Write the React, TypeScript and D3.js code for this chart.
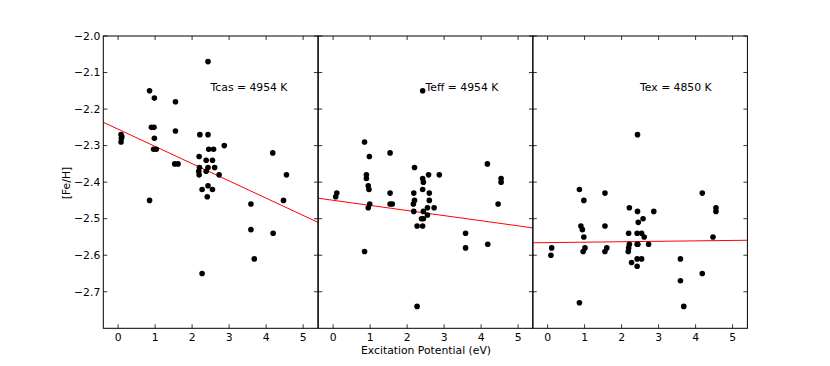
import React, { useEffect, useRef } from "react";
import * as d3 from "d3";

// excitation potential (eV) and [Fe/H] per line, one pair of arrays per panel
const tcasEP = [2.43, 0.85, 0.98, 1.55, 0.9, 0.97, 1.55, 0.08, 0.1, 0.09, 0.08, 2.21, 2.43, 0.98, 0.96, 1.03, 2.45, 2.58, 2.87, 2.19, 2.38, 2.55, 1.53, 1.62, 2.43, 2.61, 2.2, 2.18, 2.19, 2.38, 2.73, 4.18, 4.55, 2.43, 2.27, 2.55, 2.41, 0.85, 4.47, 3.59, 3.59, 4.19, 3.68, 2.27];
const tcasFe = [-2.07, -2.15, -2.17, -2.18, -2.25, -2.25, -2.26, -2.27, -2.275, -2.28, -2.29, -2.27, -2.27, -2.28, -2.31, -2.31, -2.31, -2.31, -2.3, -2.33, -2.34, -2.34, -2.35, -2.35, -2.36, -2.36, -2.36, -2.37, -2.38, -2.37, -2.38, -2.32, -2.38, -2.41, -2.42, -2.42, -2.44, -2.45, -2.45, -2.46, -2.53, -2.54, -2.61, -2.65];

const teffEP = [2.42, 0.85, 0.98, 1.54, 0.9, 0.9, 0.95, 0.97, 0.1, 0.07, 0.99, 0.95, 0.85, 1.54, 1.54, 1.6, 2.2, 2.42, 2.44, 2.58, 2.87, 2.42, 2.18, 2.6, 2.2, 2.6, 2.17, 2.55, 2.73, 2.18, 2.44, 2.55, 2.39, 2.44, 2.27, 2.42, 2.27, 4.17, 4.54, 4.54, 4.46, 3.58, 3.58, 4.18];
const teffFe = [-2.15, -2.29, -2.33, -2.32, -2.38, -2.39, -2.41, -2.42, -2.43, -2.44, -2.46, -2.47, -2.59, -2.43, -2.46, -2.46, -2.36, -2.39, -2.4, -2.38, -2.38, -2.42, -2.43, -2.43, -2.45, -2.45, -2.46, -2.47, -2.47, -2.48, -2.48, -2.49, -2.5, -2.5, -2.52, -2.52, -2.74, -2.35, -2.39, -2.4, -2.46, -2.54, -2.58, -2.57];

const texEP = [2.43, 0.86, 0.98, 1.55, 0.9, 0.94, 0.98, 0.11, 0.09, 1.01, 0.96, 0.86, 1.55, 1.6, 1.55, 2.21, 2.43, 2.87, 2.58, 2.45, 2.19, 2.42, 2.54, 2.61, 2.19, 2.21, 2.42, 2.44, 2.73, 2.18, 2.42, 2.54, 2.27, 2.42, 4.18, 4.55, 4.55, 4.47, 3.59, 3.59, 4.18, 3.68];
const texFe = [-2.27, -2.42, -2.45, -2.43, -2.52, -2.53, -2.55, -2.58, -2.6, -2.58, -2.59, -2.73, -2.52, -2.58, -2.59, -2.47, -2.48, -2.48, -2.5, -2.51, -2.54, -2.54, -2.54, -2.55, -2.58, -2.57, -2.57, -2.57, -2.57, -2.59, -2.61, -2.61, -2.62, -2.63, -2.43, -2.47, -2.48, -2.55, -2.61, -2.67, -2.65, -2.74];

const panelLabels = ["Tcas = 4954 K", "Teff = 4954 K", "Tex = 4850 K"];
const fitSlopes = [-0.0472, -0.014, 0.0012];
const fitIntercepts = [-2.255, -2.4496, -2.5655];

const xTicks = [0, 1, 2, 3, 4, 5];
const yTicks = [-2.0, -2.1, -2.2, -2.3, -2.4, -2.5, -2.6, -2.7];

export default function App() {
  const chartRef = useRef<SVGSVGElement>(null);

  useEffect(() => {
    const svg = d3.select(chartRef.current);
    svg.selectAll("*").remove();

    const top = 36;
    const bottom = 328.3;
    const lefts = [103.3, 318.3, 532.8];
    const panelW = 214.6;
    const font = "DejaVu Sans, sans-serif";
    const fs = 10.8;
    const fmt = (v: number) => d3.format(".1f")(v).replace("-", "\u2212");

    const y = d3.scaleLinear().domain([-2.8, -2.0]).range([bottom, top]);

    const series = [
      { ep: tcasEP, fe: tcasFe },
      { ep: teffEP, fe: teffFe },
      { ep: texEP, fe: texFe },
    ];

    series.forEach((s, i) => {
      const x = d3
        .scaleLinear()
        .domain([-0.4, 5.4])
        .range([lefts[i], lefts[i] + panelW]);

      const g = svg.append("g");

      const clipId = "clip" + i;
      g.append("clipPath")
        .attr("id", clipId)
        .append("rect")
        .attr("x", lefts[i])
        .attr("y", top)
        .attr("width", panelW)
        .attr("height", bottom - top);

      // fit line
      const line = d3
        .line<number>()
        .x((d) => x(d))
        .y((d) => y(fitIntercepts[i] + fitSlopes[i] * d));
      g.append("path")
        .attr("d", line([-0.4, 5.4]))
        .attr("clip-path", `url(#${clipId})`)
        .attr("fill", "none")
        .attr("stroke", "#ff0000")
        .attr("stroke-width", 1);

      // points
      g.selectAll("circle")
        .data(s.ep.map((e, k) => [e, s.fe[k]]))
        .enter()
        .append("circle")
        .attr("cx", (d) => x(d[0]))
        .attr("cy", (d) => y(d[1]))
        .attr("r", 2.8)
        .attr("fill", "#000");

      // ticks (inward, all four sides)
      xTicks.forEach((t) => {
        g.append("line")
          .attr("x1", x(t)).attr("x2", x(t))
          .attr("y1", bottom).attr("y2", bottom - 4)
          .attr("stroke", "#000").attr("stroke-width", 0.8);
        g.append("line")
          .attr("x1", x(t)).attr("x2", x(t))
          .attr("y1", top).attr("y2", top + 4)
          .attr("stroke", "#000").attr("stroke-width", 0.8);
        g.append("text")
          .attr("x", x(t))
          .attr("y", bottom + 12.5)
          .attr("text-anchor", "middle")
          .attr("font-family", font)
          .attr("font-size", fs)
          .text(t);
      });
      yTicks.forEach((t) => {
        g.append("line")
          .attr("x1", lefts[i]).attr("x2", lefts[i] + 4)
          .attr("y1", y(t)).attr("y2", y(t))
          .attr("stroke", "#000").attr("stroke-width", 0.8);
        g.append("line")
          .attr("x1", lefts[i] + panelW).attr("x2", lefts[i] + panelW - 4)
          .attr("y1", y(t)).attr("y2", y(t))
          .attr("stroke", "#000").attr("stroke-width", 0.8);
        if (i === 0) {
          g.append("text")
            .attr("x", lefts[i] - 3)
            .attr("y", y(t))
            .attr("dy", "0.35em")
            .attr("text-anchor", "end")
            .attr("font-family", font)
            .attr("font-size", fs)
            .text(fmt(t));
        }
      });

      // frame
      g.append("rect")
        .attr("x", lefts[i])
        .attr("y", top)
        .attr("width", panelW)
        .attr("height", bottom - top)
        .attr("fill", "none")
        .attr("stroke", "#000")
        .attr("stroke-width", 1);

      g.append("text")
        .attr("x", x(2.5))
        .attr("y", y(-2.15))
        .attr("font-family", font)
        .attr("font-size", fs)
        .text(panelLabels[i]);
    });

    svg.append("text")
      .attr("x", 426)
      .attr("y", 354)
      .attr("text-anchor", "middle")
      .attr("font-family", font)
      .attr("font-size", fs)
      .text("Excitation Potential (eV)");

    svg.append("text")
      .attr("transform", "translate(70,183) rotate(-90)")
      .attr("text-anchor", "middle")
      .attr("font-family", font)
      .attr("font-size", fs)
      .text("[Fe/H]");
  }, []);

  return (
    <div>
      <svg
        ref={chartRef}
        width="830"
        height="366"
        style={{ position: "absolute", left: 0, top: 0, background: "#fff" }}
      ></svg>
    </div>
  );
}
